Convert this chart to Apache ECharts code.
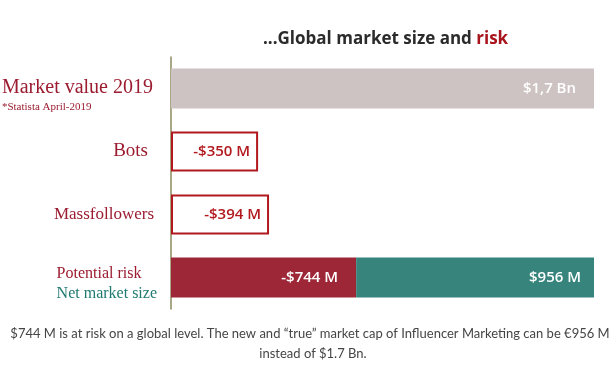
<!DOCTYPE html>
<html>
<head>
<meta charset="utf-8">
<script src="https://cdn.jsdelivr.net/npm/echarts@6/dist/echarts.min.js"></script>
<style>
html,body{margin:0;padding:0;background:#fff;}
#chart{width:614px;height:379px;}
</style>
</head>
<body>
<div id="chart"></div>
<script>
// ---- data ----
var categories = ['Market value 2019', 'Bots', 'Massfollowers', 'Potential risk'];
var categoryNotes = ['*Statista April-2019', '', '', 'Net market size'];
var marketValue = [1700, '-', '-', '-'];
var fraudLosses = ['-', 350, 394, '-'];
var potentialRisk = ['-', '-', '-', 744];
var netMarketSize = ['-', '-', '-', 956];
var titleMain = '...Global market size and ';
var titleAccent = 'risk';
var footerLines = [
  '$744 M is at risk on a global level. The new and \u201ctrue\u201d market cap of Influencer Marketing can be \u20ac956 M',
  'instead of $1.7 Bn.'
];

var chart = echarts.init(document.getElementById('chart'), null, {renderer: 'canvas'});

var serif = '"Liberation Serif", "DejaVu Serif", serif';
var sans = '"Open Sans", "Noto Sans", sans-serif';

function catLabel(value, index) {
  if (index === 0) return '{mv|' + value + '}\n{src|' + categoryNotes[0] + '}';
  if (index === 1) return '{bots|' + value + '}';
  if (index === 2) return '{mass|' + value + '}';
  return '{pr|' + value + '}\n{net|' + categoryNotes[3] + '}';
}

var footerStyle = {
  fontFamily: 'Lato, "Open Sans", sans-serif',
  fontSize: 13,
  fill: '#454545'
};

var option = {
  backgroundColor: '#ffffff',
  animation: false,
  title: [
    {
      text: '{a|' + titleMain + '}{b|' + titleAccent + '}',
      left: 258,
      top: 26,
      textStyle: {
        rich: {
          a: {fontFamily: sans, fontSize: 17, fontWeight: 'bold', color: '#2b2b2b'},
          b: {fontFamily: sans, fontSize: 17, fontWeight: 'bold', color: '#a8141b'}
        }
      }
    }
  ],
  graphic: [
    {
      type: 'text', x: 310, y: 334,
      style: Object.assign({text: footerLines[0], textAlign: 'center', textVerticalAlign: 'middle'}, footerStyle)
    },
    {
      type: 'text', x: 313, y: 354,
      style: Object.assign({text: footerLines[1], textAlign: 'center', textVerticalAlign: 'middle'}, footerStyle)
    }
  ],
  grid: {
    left: 171,
    top: 57,
    width: 428,
    height: 252,
    containLabel: false,
    outerBoundsMode: 'none'
  },
  xAxis: {
    type: 'value',
    min: 0,
    max: 1720,
    show: false,
    splitLine: {show: false}
  },
  yAxis: {
    type: 'category',
    inverse: true,
    data: categories,
    axisLine: {show: true, lineStyle: {color: '#8b8a5e', width: 1.5}},
    axisTick: {show: false},
    splitLine: {show: false},
    axisLabel: {
      margin: 14,
      formatter: catLabel,
      rich: {
        mv: {fontFamily: serif, fontSize: 20, color: '#9b1b30', align: 'left', padding: [13, 4, 0, 0], lineHeight: 37},
        src: {fontFamily: serif, fontSize: 11, color: '#9b1b30', align: 'left', lineHeight: 14},
        bots: {fontFamily: serif, fontSize: 19, color: '#9b1b30', padding: [0, 9, 0, 0]},
        mass: {fontFamily: serif, fontSize: 17, color: '#9b1b30', padding: [0, 3, 0, 0]},
        pr: {fontFamily: serif, fontSize: 16, color: '#9b1b30', align: 'left', lineHeight: 20, padding: [12, 0, 0, 0]},
        net: {fontFamily: serif, fontSize: 16, color: '#1f7a70', align: 'left', lineHeight: 20, padding: [12, 0, 0, 0]}
      }
    }
  },
  series: [
    {
      name: 'Market value 2019',
      type: 'bar',
      stack: 'all',
      barWidth: 40,
      data: marketValue,
      itemStyle: {color: '#cdc3c2'},
      label: {
        show: true,
        position: 'insideRight',
        distance: 18,
        fontFamily: sans,
        fontWeight: 600,
        fontSize: 15,
        color: '#ffffff',
        formatter: function (p) { return '$' + (p.value / 1000).toFixed(1).replace('.', ',') + ' Bn'; }
      }
    },
    {
      name: 'Bots & Massfollowers',
      type: 'bar',
      stack: 'all',
      barWidth: 40,
      data: fraudLosses,
      itemStyle: {color: '#ffffff', borderColor: '#b2191f', borderWidth: 2},
      label: {
        show: true,
        position: 'insideRight',
        distance: 8,
        fontFamily: sans,
        fontWeight: 600,
        fontSize: 15,
        color: '#b2191f',
        formatter: function (p) { return '-$' + p.value + ' M'; }
      }
    },
    {
      name: 'Potential risk',
      type: 'bar',
      stack: 'all',
      barWidth: 40,
      data: potentialRisk,
      itemStyle: {color: '#9d2737'},
      label: {
        show: true,
        position: 'insideRight',
        distance: 18,
        fontFamily: sans,
        fontWeight: 600,
        fontSize: 15,
        color: '#ffffff',
        formatter: function (p) { return '-$' + p.value + ' M'; }
      }
    },
    {
      name: 'Net market size',
      type: 'bar',
      stack: 'all',
      barWidth: 40,
      data: netMarketSize,
      itemStyle: {color: '#37847d'},
      label: {
        show: true,
        position: 'insideRight',
        distance: 13,
        fontFamily: sans,
        fontWeight: 600,
        fontSize: 15,
        color: '#ffffff',
        formatter: function (p) { return '$' + p.value + ' M'; }
      }
    }
  ]
};

chart.setOption(option);
</script>
</body>
</html>
